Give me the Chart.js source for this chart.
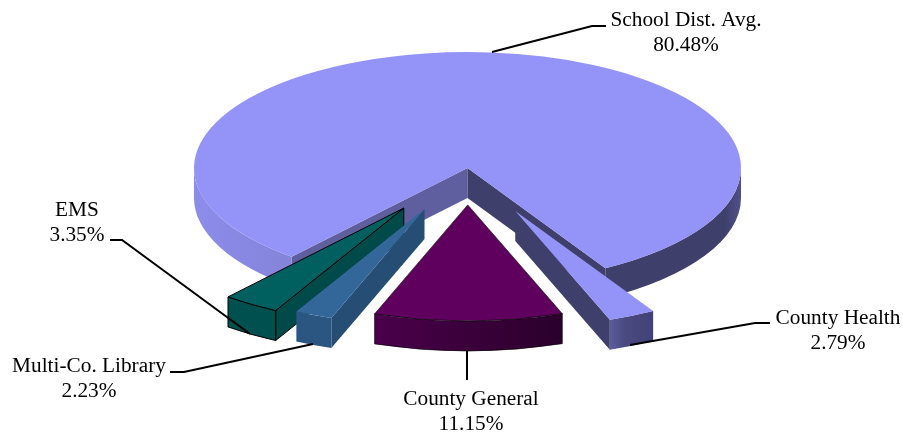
<!DOCTYPE html>
<html>
<head>
<meta charset="utf-8">
<title>Tax Rate Shares</title>
<script src="https://cdn.jsdelivr.net/npm/chart.js@4/dist/chart.umd.js"></script>
<style>
    html, body { margin: 0; padding: 0; background: #fff; }
    canvas { display: block; }
</style>
</head>
<body>
<canvas id="pie_chart" width="903" height="434"></canvas>
<script>
const sliceNames = ['School Dist. Avg.', 'County Health', 'County General', 'Multi-Co. Library', 'EMS'];
const sliceValues = [80.48, 2.79, 11.15, 2.23, 3.35];

// Look of the slices, same order as above
const topColors = ['#9494f8', '#9494f8', '#5f005f', '#336699', '#006060'];
const startFaceColors = ['#5f5f9f', '#3f3f6c', '#3a003a', '#264d73', '#004a4a'];
const endFaceColors = ['#3f3f6c', '#3f3f6c', '#3a003a', '#264d73', '#004d4d'];
const rimStops = [
    [[0, '#8c8ceb'], [0.2, '#8383d8'], [0.7, '#7c7cc8'], [0.74, '#3f3f6c'], [0.97, '#3f3f6c'], [1, '#50508a']],
    [[0, '#5c5c9c'], [0.35, '#4a4a80'], [1, '#42427a']],
    [[0, '#4a004a'], [0.5, '#3a003a'], [1, '#2a002c']],
    [[0, '#2b5682'], [1, '#2b5682']],
    [[0, '#005050'], [1, '#005050']]
];
const outlineColors = [null, null, 'rgba(0,0,0,0.6)', null, '#000'];
const slicePull = [0, 112, 87, 106, 114];
const drawOrder = [0, 1, 4, 3, 2];

const TILT = 0.424;
const DEPTH = 30;

class Pie3dController extends Chart.PieController {
    static id = 'pie3d';

    draw() {
        const ctx = this._ctx;
        const arcs = this._cachedMeta.data;
        drawOrder.forEach((i) => this.drawSlice(ctx, arcs[i], i));
    }

    drawSlice(ctx, arc, i) {
        const r = arc.outerRadius;
        const s = arc.startAngle;
        const e = arc.endAngle;
        const mid = (s + e) / 2;
        const pullX = Math.cos(mid) * slicePull[i];
        const pullY = Math.sin(mid) * slicePull[i];
        const cx = arc.x + pullX;
        const cy = arc.y + pullY * TILT;
        const outline = outlineColors[i];

        // cut faces first, only those turned towards the viewer
        if (-Math.cos(s) > 0) {
            this.drawCutFace(ctx, cx, cy, r, s, startFaceColors[i], outline);
        }
        if (Math.cos(e) > 0) {
            this.drawCutFace(ctx, cx, cy, r, e, endFaceColors[i], outline);
        }

        // outer wall, the part on the front half of the ellipse
        const gradLeft = [];
        const portions = [];
        for (let k = 0; k < 2; k++) {
            const from = Math.max(s, 2 * Math.PI * k);
            const to = Math.min(e, 2 * Math.PI * k + Math.PI);
            if (to > from) {
                portions.push([from, to]);
                gradLeft.push(cx + r * Math.cos(from), cx + r * Math.cos(to));
            }
        }
        if (portions.length) {
            const wide = portions.length > 1;
            const x0 = wide ? cx - r : Math.min(...gradLeft);
            const x1 = wide ? cx + r : Math.max(...gradLeft);
            const grad = ctx.createLinearGradient(x0, 0, x1, 0);
            rimStops[i].forEach((stop) => grad.addColorStop(stop[0], stop[1]));
            portions.forEach((p) => {
                ctx.beginPath();
                ctx.ellipse(cx, cy, r, r * TILT, 0, p[0], p[1]);
                ctx.ellipse(cx, cy + DEPTH, r, r * TILT, 0, p[1], p[0], true);
                ctx.closePath();
                ctx.fillStyle = grad;
                ctx.fill();
                if (outline) {
                    ctx.strokeStyle = outline;
                    ctx.lineWidth = 1;
                    ctx.stroke();
                }
            });
        }

        // top face is the library's own arc, squashed and moved out
        ctx.save();
        ctx.translate(cx, cy);
        ctx.scale(1, TILT);
        ctx.translate(-arc.x, -arc.y);
        arc.draw(ctx);
        ctx.restore();

        if (outline) {
            ctx.beginPath();
            ctx.moveTo(cx, cy);
            ctx.ellipse(cx, cy, r, r * TILT, 0, s, e);
            ctx.closePath();
            ctx.strokeStyle = outline;
            ctx.lineWidth = 1;
            ctx.stroke();
        }
    }

    drawCutFace(ctx, cx, cy, r, angle, color, outline) {
        const rimX = cx + r * Math.cos(angle);
        const rimY = cy + r * TILT * Math.sin(angle);
        ctx.beginPath();
        ctx.moveTo(cx, cy);
        ctx.lineTo(rimX, rimY);
        ctx.lineTo(rimX, rimY + DEPTH);
        ctx.lineTo(cx, cy + DEPTH);
        ctx.closePath();
        ctx.fillStyle = color;
        ctx.fill();
        if (outline) {
            ctx.strokeStyle = outline;
            ctx.lineWidth = 1;
            ctx.stroke();
        }
    }
}
Chart.register(Pie3dController);

// Text anchors (first baseline) and leader lines for each slice
const labelAnchors = [[686, 26], [838, 324], [471, 405], [89, 372], [77, 216]];
const leaderPaths = [
    [[492, 52], [592, 26], [606, 26]],
    [[630, 345], [755, 323], [770, 323]],
    [[467, 351], [467, 380]],
    [[170, 372], [184, 372], [313, 344]],
    [[110, 240], [122, 240], [250, 334]]
];

const calloutPlugin = {
    id: 'callouts',
    afterDatasetsDraw(chart) {
        const ctx = chart.ctx;
        ctx.save();
        ctx.strokeStyle = '#000';
        ctx.lineWidth = 2;
        leaderPaths.forEach((path) => {
            ctx.beginPath();
            path.forEach((p, n) => (n ? ctx.lineTo(p[0], p[1]) : ctx.moveTo(p[0], p[1])));
            ctx.stroke();
        });
        ctx.fillStyle = '#000';
        ctx.font = '21.3px "Liberation Serif"';
        ctx.textAlign = 'center';
        ctx.textBaseline = 'alphabetic';
        sliceNames.forEach((name, i) => {
            const [x, y] = labelAnchors[i];
            ctx.fillText(name, x, y);
            ctx.fillText(sliceValues[i].toFixed(2) + '%', x, y + 25);
        });
        ctx.restore();
    }
};

new Chart(document.getElementById('pie_chart').getContext('2d'), {
    type: 'pie3d',
    data: {
        labels: sliceNames,
        datasets: [{
            data: sliceValues,
            backgroundColor: topColors,
            borderWidth: 0,
            rotation: 220,
            clip: false
        }]
    },
    options: {
        responsive: false,
        animation: false,
        events: [],
        radius: 273.5,
        layout: { padding: { left: 32, bottom: 98 } },
        plugins: {
            legend: { display: false },
            tooltip: { enabled: false }
        }
    },
    plugins: [calloutPlugin]
});
</script>
</body>
</html>
